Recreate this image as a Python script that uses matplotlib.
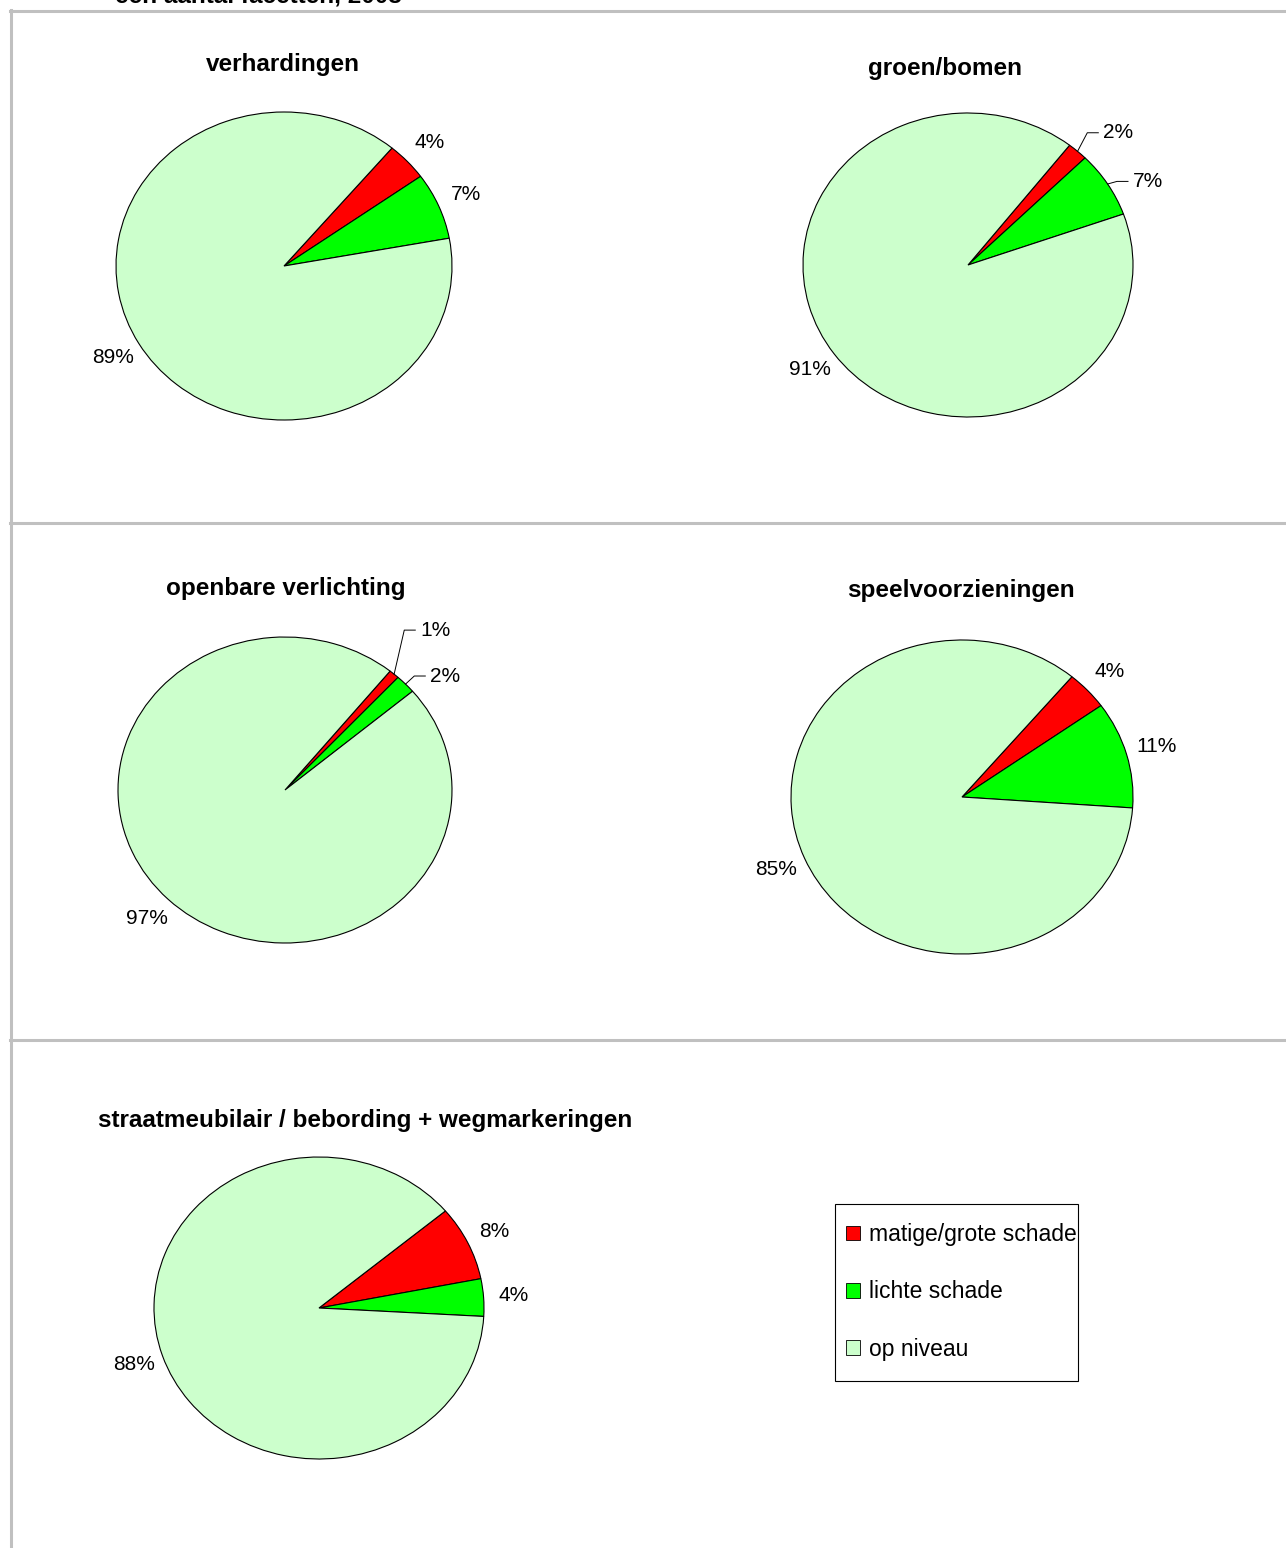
import numpy as np
import matplotlib
matplotlib.use("Agg")
import matplotlib.pyplot as plt
from matplotlib.lines import Line2D
from matplotlib.patches import Patch, Rectangle

plt.rcParams['font.family'] = ['Liberation Sans', 'DejaVu Sans']

# data
categories = ["matige/grote schade", "lichte schade", "op niveau"]
colors = ["#ff0000", "#00ff00", "#ccffcc"]

verhardingen = [4, 7, 89]
groen_bomen = [2, 7, 91]
openbare_verlichting = [1, 2, 97]
speelvoorzieningen = [4, 11, 85]
straatmeubilair = [8, 4, 88]

W, H = 1286, 1548
fig = plt.figure(figsize=(W / 100, H / 100), dpi=100)

def px(x, y):
    return x / W, 1 - y / H

def add_pie(values, title, cx, cy, rx, ry, start, tx, ty, leaders=None):
    leaders = leaders or {}
    ax = fig.add_axes([(cx - 2 * rx) / W, 1 - (cy + 2 * ry) / H, 4 * rx / W, 4 * ry / H])
    wedges, _ = ax.pie(values, colors=colors, startangle=start, counterclock=False,
                       wedgeprops=dict(edgecolor='black', linewidth=0.8))
    ax.set_aspect('auto')
    ax.set_xlim(-2, 2)
    ax.set_ylim(-2, 2)
    ax.axis('off')
    for i, (w, v) in enumerate(zip(wedges, values)):
        mid = np.deg2rad((w.theta1 + w.theta2) / 2)
        if i in leaders:
            lx, ly = leaders[i]
            ex, ey = np.cos(mid), np.sin(mid)
            ax.plot([ex, lx - 16 / rx, lx - 5 / rx], [ey, ly, ly], color='black', lw=0.7)
            ax.text(lx, ly, f"{v}%", ha='left', va='center', fontsize=15)
        else:
            ax.text(1.18 * np.cos(mid), 1.18 * np.sin(mid), f"{v}%",
                    ha='center', va='center', fontsize=15)
    fx, fy = px(tx, ty)
    fig.text(fx, fy, title, ha='center', va='center', fontsize=17.5, fontweight='bold')

add_pie(verhardingen, "verhardingen", 284, 266, 168, 154, 50, 283, 64)
add_pie(groen_bomen, "groen/bomen", 968, 265, 165, 152, 52, 945, 68,
        leaders={0: (0.82, 0.87), 1: (1.0, 0.55)})
add_pie(openbare_verlichting, "openbare verlichting", 285, 790, 167, 153, 51, 286, 588,
        leaders={0: (0.81, 1.045), 1: (0.87, 0.745)})
add_pie(speelvoorzieningen, "speelvoorzieningen", 962, 797, 171, 157, 50, 961, 591)
add_pie(straatmeubilair, "straatmeubilair / bebording + wegmarkeringen", 319, 1308, 165, 151, 40, 365, 1120)

# cut-off main title at the very top (as in the original, only its lower edge shows)
fig.text(*px(115, 3), "een aantal facetten, 2008", ha='left', va='baseline',
         fontsize=17.5, fontweight='bold')

# grey frame lines
grey = '#c0c0c0'
for y in (11, 523, 1040):
    x0, y0 = px(10, y)
    fig.add_artist(Line2D([x0, 1], [y0, y0], color=grey, lw=2.2))
x0, y0 = px(11, 10)
fig.add_artist(Line2D([x0, x0], [y0, 0], color=grey, lw=2.2))

# legend: box drawn separately, text runs up to its right edge like the original
bx, by = px(835, 1381)
fig.add_artist(Rectangle((bx, by), 243 / W, 177 / H, transform=fig.transFigure,
                         facecolor='white', edgecolor='black', lw=0.8, zorder=1))
handles = [Patch(facecolor=c, edgecolor='black', linewidth=0.6) for c in colors]
leg = fig.legend(handles, categories, loc='upper left', bbox_to_anchor=px(846, 1223),
                 fontsize=16.5, frameon=False, labelspacing=1.5,
                 handlelength=0.6, handleheight=0.6, handletextpad=0.4,
                 borderpad=0, borderaxespad=0)
leg.set_zorder(2)

fig.savefig("out.png", dpi=100)
